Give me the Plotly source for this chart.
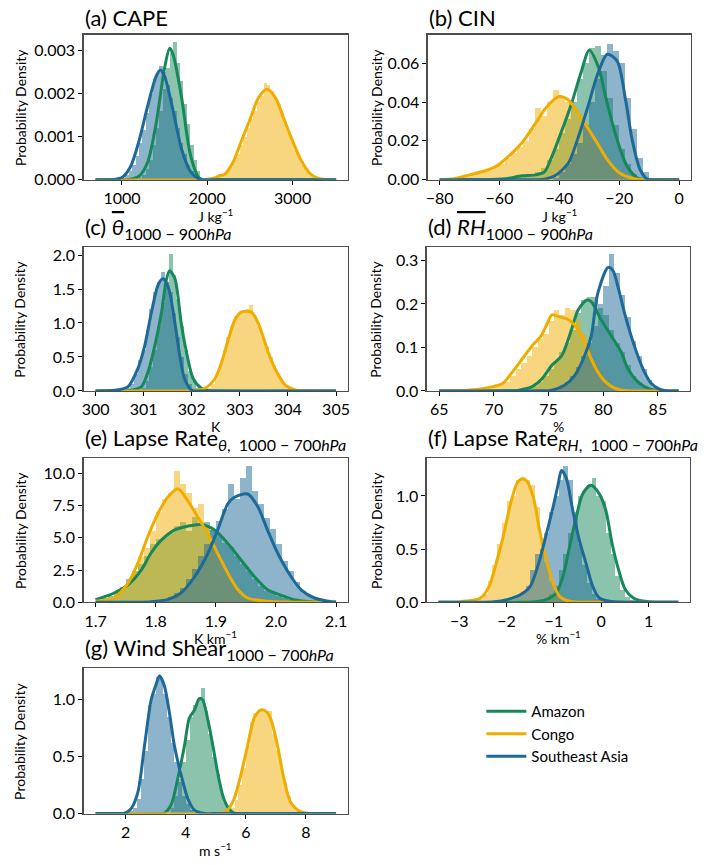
import plotly.graph_objects as go

W, H = 722, 865

AMZ_COLOR = "#17885a"
CON_COLOR = "#f0ad00"
SEA_COLOR = "#1d6a98"
NAMES = ["Amazon", "Congo", "Southeast Asia"]

# ---------------- (a) CAPE ----------------
CAPE_BW = 40
CAPE_AMZ_START = 1200
CAPE_AMZ_H = [0.05e-3, 0.1e-3, 0.25e-3, 0.45e-3, 0.8e-3, 1.2e-3, 1.6e-3, 2.1e-3, 2.6e-3, 2.95e-3,
              3.2e-3, 2.7e-3, 2.3e-3, 1.75e-3, 1.3e-3, 0.8e-3, 0.45e-3, 0.2e-3, 0.05e-3]
CAPE_CON_START = 2100
CAPE_CON_H = [0.05e-3, 0.1e-3, 0.1e-3, 0.2e-3, 0.3e-3, 0.45e-3, 0.6e-3, 0.8e-3, 1.0e-3, 1.2e-3,
              1.4e-3, 1.6e-3, 1.8e-3, 1.95e-3, 2.25e-3, 2.2e-3, 2.05e-3, 1.9e-3, 1.75e-3, 1.55e-3,
              1.35e-3, 1.1e-3, 0.9e-3, 0.7e-3, 0.5e-3, 0.35e-3, 0.25e-3, 0.15e-3, 0.08e-3, 0.04e-3]
CAPE_SEA_START = 1000
CAPE_SEA_H = [0.05e-3, 0.1e-3, 0.2e-3, 0.35e-3, 0.55e-3, 0.85e-3, 1.15e-3, 1.55e-3, 2.0e-3, 2.35e-3,
              2.45e-3, 2.65e-3, 2.5e-3, 2.2e-3, 1.9e-3, 1.6e-3, 1.2e-3, 0.85e-3, 0.6e-3, 0.35e-3,
              0.2e-3, 0.1e-3, 0.04e-3]
CAPE_AMZ_KX = [690, 1050, 1100, 1200, 1300, 1400, 1500, 1560, 1600, 1700, 1800, 1900, 1950, 2000, 3510]
CAPE_AMZ_KY = [0, 0, 0.01e-3, 0.08e-3, 0.4e-3, 1.3e-3, 2.6e-3, 3.05e-3, 2.9e-3, 1.9e-3, 0.6e-3, 0.05e-3, 0, 0, 0]
CAPE_CON_KX = [690, 1950, 2000, 2100, 2150, 2200, 2300, 2400, 2500, 2600, 2700, 2800, 2900, 3000,
               3100, 3200, 3300, 3400, 3450, 3510]
CAPE_CON_KY = [0, 0, 0.01e-3, 0.05e-3, 0.1e-3, 0.12e-3, 0.4e-3, 0.9e-3, 1.4e-3, 1.9e-3, 2.1e-3, 1.9e-3,
               1.4e-3, 0.9e-3, 0.45e-3, 0.15e-3, 0.03e-3, 0.005e-3, 0, 0]
CAPE_SEA_KX = [690, 850, 900, 1000, 1100, 1200, 1300, 1400, 1450, 1500, 1600, 1700, 1800, 1900, 1950, 2000, 3510]
CAPE_SEA_KY = [0, 0, 0.005e-3, 0.05e-3, 0.3e-3, 0.9e-3, 1.7e-3, 2.4e-3, 2.55e-3, 2.4e-3, 1.6e-3, 0.7e-3,
               0.2e-3, 0.02e-3, 0, 0, 0]

# ---------------- (b) CIN ----------------
CIN_BW = 2
CIN_AMZ_START = -56
CIN_AMZ_H = [0.001, 0.002, 0.002, 0.003, 0.004, 0.006, 0.01, 0.016, 0.024, 0.031, 0.04, 0.052,
             0.06, 0.068, 0.069, 0.056, 0.042, 0.028, 0.016, 0.008, 0.003, 0.001]
CIN_CON_START = -74
CIN_CON_H = [0.001, 0.002, 0.003, 0.004, 0.005, 0.005, 0.007, 0.008, 0.011, 0.014, 0.017, 0.02,
             0.026, 0.037, 0.033, 0.04, 0.046, 0.043, 0.04, 0.037, 0.033, 0.028, 0.022, 0.017,
             0.012, 0.008, 0.005, 0.003, 0.0015, 0.0005]
CIN_SEA_START = -42
CIN_SEA_H = [0.001, 0.004, 0.008, 0.013, 0.019, 0.028, 0.04, 0.052, 0.064, 0.07, 0.066, 0.06,
             0.042, 0.026, 0.011, 0.004, 0.001]
CIN_AMZ_KX = [-80, -65, -58, -52.5, -48, -45, -42.5, -39.5, -36, -33, -30, -27, -24, -20.7, -17.4,
              -14, -11, -8, 0]
CIN_AMZ_KY = [0, 0, 0.0005, 0.002, 0.0025, 0.004, 0.012, 0.024, 0.039, 0.054, 0.0666, 0.058, 0.039,
              0.0205, 0.007, 0.001, 0, 0, 0]
CIN_CON_KX = [-80, -75, -70, -65, -61, -57, -52.5, -48, -45, -42, -40, -37, -33, -28, -24, -20,
              -15, -11, -8, 0]
CIN_CON_KY = [0, 0.0005, 0.0025, 0.0045, 0.007, 0.012, 0.019, 0.029, 0.036, 0.041, 0.0428, 0.041,
              0.0325, 0.0205, 0.0103, 0.0036, 0.0005, 0, 0, 0]
CIN_SEA_KX = [-80, -50, -45, -41.5, -37, -34, -30.5, -27.3, -24, -20.7, -17.9, -15.7, -13, -10.8,
              -9, -6, 0]
CIN_SEA_KY = [0, 0, 0.0003, 0.002, 0.0086, 0.0205, 0.0375, 0.054, 0.0646, 0.061, 0.041, 0.0205,
              0.005, 0.0005, 0, 0, 0]

# ---------------- (c) theta 1000-900 ----------------
TH_BW = 0.08
TH_AMZ_START = 300.96
TH_AMZ_H = [0.05, 0.15, 0.35, 0.6, 0.95, 1.3, 1.6, 2.01, 1.7, 1.35, 0.95, 0.6, 0.3, 0.15, 0.05, 0.02]
TH_CON_START = 302.32
TH_CON_H = [0.05, 0.1, 0.25, 0.4, 0.6, 0.8, 0.95, 1.1, 1.15, 1.17, 1.2, 1.27, 1.1, 0.95, 0.8,
            0.65, 0.5, 0.38, 0.25, 0.15, 0.08, 0.04]
TH_SEA_START = 300.64
TH_SEA_H = [0.05, 0.1, 0.25, 0.45, 0.6, 0.9, 1.2, 1.45, 1.6, 1.75, 1.6, 1.45, 1.15, 0.8, 0.5,
            0.25, 0.1, 0.03]
TH_AMZ_KX = [300, 300.6, 300.7, 300.95, 301.09, 301.23, 301.37, 301.47, 301.54, 301.65, 301.78,
             301.89, 302.03, 302.2, 302.34, 302.5, 305]
TH_AMZ_KY = [0, 0, 0.005, 0.06, 0.28, 0.66, 1.15, 1.63, 1.77, 1.65, 1.0, 0.57, 0.18, 0.04, 0.005, 0, 0]
TH_CON_KX = [300, 301.8, 302.0, 302.27, 302.48, 302.62, 302.76, 302.9, 303.03, 303.24, 303.38,
             303.59, 303.73, 303.94, 304.15, 304.35, 304.6, 305]
TH_CON_KY = [0, 0, 0.005, 0.04, 0.18, 0.42, 0.76, 1.05, 1.16, 1.16, 1.0, 0.57, 0.33, 0.09, 0.015,
             0.002, 0, 0]
TH_SEA_KX = [300, 300.2, 300.4, 300.67, 300.88, 301.02, 301.16, 301.3, 301.4, 301.51, 301.65,
             301.75, 301.85, 302.0, 302.2, 302.4, 305]
TH_SEA_KY = [0, 0.002, 0.01, 0.06, 0.33, 0.66, 1.15, 1.56, 1.65, 1.53, 1.0, 0.52, 0.18, 0.01, 0, 0, 0]

# ---------------- (d) RH 1000-900 ----------------
RH_BW = 0.5
RH_AMZ_START = 72.5
RH_AMZ_H = [0.003, 0.008, 0.012, 0.02, 0.035, 0.05, 0.07, 0.09, 0.11, 0.14, 0.18, 0.21, 0.215,
            0.215, 0.19, 0.175, 0.14, 0.11, 0.09, 0.06, 0.035, 0.02, 0.01, 0.004]
RH_CON_START = 68.5
RH_CON_H = [0.003, 0.005, 0.008, 0.012, 0.015, 0.02, 0.035, 0.05, 0.065, 0.08, 0.1, 0.12, 0.13,
            0.16, 0.185, 0.175, 0.19, 0.185, 0.165, 0.13, 0.1, 0.07, 0.045, 0.025, 0.012, 0.005, 0.002]
RH_SEA_START = 75.5
RH_SEA_H = [0.003, 0.01, 0.02, 0.035, 0.055, 0.08, 0.11, 0.15, 0.2, 0.24, 0.315, 0.27, 0.22, 0.17,
            0.115, 0.08, 0.05, 0.025, 0.01, 0.004]
RH_AMZ_KX = [65, 70, 71, 72.3, 73.5, 74.4, 75.3, 76.2, 77.1, 77.7, 78.5, 78.9, 79.8, 80.75, 81.65,
             82.26, 83.16, 84.1, 85, 86, 86.9]
RH_AMZ_KY = [0, 0, 0.0003, 0.002, 0.01, 0.028, 0.059, 0.081, 0.141, 0.186, 0.209, 0.205, 0.164,
             0.126, 0.089, 0.051, 0.021, 0.006, 0.001, 0, 0]
RH_CON_KX = [65, 66.5, 67.8, 69.9, 70.8, 71.7, 72.6, 73.5, 74.3, 74.9, 75.3, 75.9, 76.8, 77.7,
             78.3, 78.9, 79.5, 80.2, 81.1, 82, 83, 86.9]
RH_CON_KY = [0, 0.0003, 0.002, 0.01, 0.017, 0.044, 0.074, 0.104, 0.126, 0.156, 0.175, 0.171,
             0.164, 0.141, 0.111, 0.074, 0.044, 0.021, 0.006, 0.001, 0, 0]
RH_SEA_KX = [65, 73, 74.2, 75.3, 76.5, 77.4, 78.3, 78.9, 79.5, 80.45, 80.9, 81.35, 81.95, 82.56,
             83.16, 83.76, 84.4, 85, 85.6, 86.2, 86.9]
RH_SEA_KY = [0, 0, 0.0003, 0.002, 0.0135, 0.036, 0.081, 0.126, 0.224, 0.284, 0.276, 0.239, 0.179,
             0.126, 0.081, 0.044, 0.017, 0.006, 0.001, 0, 0]

# ---------------- (e) Lapse rate theta ----------------
LRT_BW = 0.01
LRT_AMZ_START = 1.71
LRT_AMZ_H = [0.3, 0.5, 0.8, 1.2, 1.8, 2.4, 3.0, 3.6, 4.5, 4.9, 5.1, 5.4, 5.9, 6.2, 5.5, 6.6, 6.0,
             6.2, 5.6, 5.3, 4.6, 4.3, 3.6, 3.0, 2.4, 1.8, 1.3, 0.9, 0.7, 0.5, 0.35, 0.2, 0.1]
LRT_CON_START = 1.72
LRT_CON_H = [0.3, 0.6, 1.0, 1.6, 2.4, 3.5, 4.2, 5.5, 7.0, 8.0, 8.5, 10.2, 9.2, 8.5, 7.3, 7.6, 6.0,
             4.8, 3.6, 2.6, 1.8, 1.0, 0.5, 0.25, 0.1]
LRT_SEA_START = 1.80
LRT_SEA_H = [0.1, 0.2, 0.4, 0.7, 1.1, 1.8, 2.6, 3.6, 4.5, 5.6, 6.3, 7.2, 9.2, 8.0, 9.6, 10.6, 8.6,
             7.6, 6.5, 5.7, 4.5, 3.2, 2.4, 1.6, 0.9, 0.5, 0.25, 0.1]
LRT_AMZ_KX = [1.70, 1.73, 1.754, 1.776, 1.792, 1.809, 1.831, 1.853, 1.876, 1.898, 1.92, 1.942,
              1.964, 1.986, 2.009, 2.03, 2.064, 2.10]
LRT_AMZ_KY = [0.2, 0.7, 1.36, 2.5, 3.8, 4.8, 5.6, 5.9, 6.03, 5.6, 4.56, 3.28, 2.0, 0.97, 0.54,
              0.2, 0.03, 0]
LRT_CON_KX = [1.70, 1.73, 1.754, 1.77, 1.787, 1.804, 1.82, 1.837, 1.853, 1.87, 1.887, 1.903, 1.92,
              1.937, 1.953, 1.986, 2.02, 2.06, 2.10]
LRT_CON_KY = [0.08, 0.33, 1.49, 3.0, 5.1, 6.9, 8.15, 8.8, 7.9, 6.6, 5.3, 3.8, 2.26, 0.97, 0.33,
              0.08, 0.01, 0, 0]
LRT_SEA_KX = [1.70, 1.76, 1.79, 1.82, 1.842, 1.865, 1.887, 1.903, 1.92, 1.931, 1.953, 1.97, 1.986,
              2.003, 2.025, 2.042, 2.064, 2.092, 2.10]
LRT_SEA_KY = [0, 0, 0.03, 0.2, 0.72, 2.0, 3.8, 5.6, 7.64, 8.15, 8.4, 7.4, 5.6, 3.8, 2.0, 0.97,
              0.33, 0.05, 0.02]

# ---------------- (f) Lapse rate RH ----------------
LRR_BW = 0.1
LRR_AMZ_START = -1.3
LRR_AMZ_H = [0.02, 0.04, 0.08, 0.15, 0.3, 0.45, 0.65, 0.85, 1.0, 1.05, 1.1, 1.17, 1.0, 0.95, 0.65,
             0.45, 0.25, 0.12, 0.05, 0.02]
LRR_CON_START = -2.7
LRR_CON_H = [0.01, 0.03, 0.08, 0.2, 0.35, 0.55, 0.75, 0.95, 1.0, 1.15, 1.18, 1.15, 1.1, 0.9, 0.6,
             0.38, 0.2, 0.08, 0.03, 0.01]
LRR_SEA_START = -2.0
LRR_SEA_H = [0.02, 0.03, 0.06, 0.1, 0.15, 0.3, 0.45, 0.5, 0.65, 0.85, 1.0, 1.15, 1.28, 1.15, 0.8,
             0.55, 0.35, 0.18, 0.08, 0.03]
LRR_AMZ_KX = [-3.44, -1.6, -1.4, -1.16, -0.95, -0.81, -0.67, -0.53, -0.39, -0.22, -0.04, 0.1,
              0.23, 0.37, 0.51, 0.72, 1.0, 1.25, 1.63]
LRR_AMZ_KY = [0, 0, 0.005, 0.025, 0.087, 0.24, 0.52, 0.8, 1.02, 1.1, 1.02, 0.86, 0.55, 0.3, 0.12,
              0.03, 0.006, 0, 0]
LRR_CON_KX = [-3.44, -3.2, -2.97, -2.55, -2.37, -2.2, -2.06, -1.92, -1.78, -1.68, -1.57, -1.43,
              -1.3, -1.16, -1.02, -0.88, -0.67, -0.45, -0.18, 1.63]
LRR_CON_KY = [0, 0.001, 0.006, 0.04, 0.15, 0.4, 0.64, 0.92, 1.12, 1.16, 1.14, 0.98, 0.67, 0.4,
              0.18, 0.056, 0.01, 0, 0, 0]
LRR_SEA_KX = [-3.44, -2.5, -2.27, -1.99, -1.71, -1.5, -1.3, -1.16, -1.02, -0.91, -0.84, -0.74,
              -0.6, -0.46, -0.32, -0.18, -0.04, 0.17, 0.5, 0.8, 1.63]
LRR_SEA_KY = [0, 0, 0.004, 0.025, 0.07, 0.15, 0.4, 0.64, 0.89, 1.11, 1.24, 1.17, 0.86, 0.58,
              0.365, 0.15, 0.04, 0.01, 0.001, 0, 0]

# ---------------- (g) Wind shear ----------------
WS_BW = 0.125
WS_AMZ_START = 3.5
WS_AMZ_H = [0.05, 0.15, 0.3, 0.45, 0.65, 0.85, 0.95, 1.0, 1.1, 0.9, 0.7, 0.5, 0.35, 0.2, 0.1,
            0.04, 0.01]
WS_CON_START = 5.5
WS_CON_H = [0.05, 0.12, 0.25, 0.4, 0.6, 0.8, 0.88, 0.9, 0.92, 0.9, 0.9, 0.7, 0.55, 0.4, 0.28,
            0.15, 0.07, 0.03, 0.01]
WS_SEA_START = 2.125
WS_SEA_H = [0.02, 0.05, 0.13, 0.3, 0.55, 0.95, 1.05, 1.2, 1.18, 1.05, 0.85, 0.62, 0.45, 0.28,
            0.15, 0.08, 0.03, 0.01]
WS_AMZ_KX = [1, 3.0, 3.29, 3.51, 3.73, 3.96, 4.12, 4.29, 4.45, 4.56, 4.73, 4.9, 5.06, 5.23, 5.39,
             5.61, 5.9, 9]
WS_AMZ_KY = [0, 0, 0.005, 0.075, 0.3, 0.6, 0.84, 0.91, 1.01, 1.0, 0.83, 0.6, 0.36, 0.16, 0.06,
             0.003, 0, 0]
WS_CON_KX = [1, 4.9, 5.17, 5.39, 5.61, 5.83, 6.06, 6.28, 6.5, 6.66, 6.83, 7.05, 7.27, 7.49, 7.82,
             8.15, 8.5, 9]
WS_CON_KY = [0, 0, 0.003, 0.03, 0.13, 0.335, 0.6, 0.84, 0.91, 0.9, 0.83, 0.6, 0.3, 0.1, 0.017,
             0, 0, 0]
WS_SEA_KX = [1, 1.7, 1.97, 2.19, 2.41, 2.63, 2.85, 3.02, 3.13, 3.29, 3.46, 3.62, 3.85, 4.07,
             4.29, 4.62, 4.9, 9]
WS_SEA_KY = [0, 0, 0.003, 0.046, 0.19, 0.6, 1.0, 1.14, 1.21, 1.12, 0.88, 0.6, 0.335, 0.13, 0.03,
             0, 0, 0]

# ---------------- text ----------------
SUB = "<sub><span style='font-size:16px'>{}</span></sub>"
OVL = "<span style='text-decoration:overline'>{}</span>"
NB = "\u00a0"
TITLES = [
    "(a) CAPE",
    "(b) CIN",
    "(c) <i>" + OVL.format("θ") + "</i>" + SUB.format("1000 − 900<i>hPa</i>"),
    "(d) <i>" + OVL.format("RH") + "</i>" + SUB.format("1000 − 900<i>hPa</i>"),
    "(e) Lapse Rate" + SUB.format("<i>θ</i>," + NB * 2 + "1000 − 700<i>hPa</i>"),
    "(f) Lapse Rate" + SUB.format("<i>RH</i>," + NB * 2 + "1000 − 700<i>hPa</i>"),
    "(g) Wind Shear" + SUB.format("1000 − 700<i>hPa</i>"),
]
XLABELS = ["J kg<sup>−1</sup>", "J kg<sup>−1</sup>", "K", "%", "K km<sup>−1</sup>",
           "% km<sup>−1</sup>", "m s<sup>−1</sup>"]
YLABEL = "Probability Density"

CAPE_XTICKS = [1000, 2000, 3000]
CAPE_YTICKS = [0, 0.001, 0.002, 0.003]
CIN_XTICKS = [-80, -60, -40, -20, 0]
CIN_YTICKS = [0, 0.02, 0.04, 0.06]
TH_XTICKS = [300, 301, 302, 303, 304, 305]
TH_YTICKS = [0, 0.5, 1.0, 1.5, 2.0]
RH_XTICKS = [65, 70, 75, 80, 85]
RH_YTICKS = [0, 0.1, 0.2, 0.3]
LRT_XTICKS = [1.7, 1.8, 1.9, 2.0, 2.1]
LRT_YTICKS = [0, 2.5, 5.0, 7.5, 10.0]
LRR_XTICKS = [-3, -2, -1, 0, 1]
LRR_YTICKS = [0, 0.5, 1.0]
WS_XTICKS = [2, 4, 6, 8]
WS_YTICKS = [0, 0.5, 1.0]

panels = [
    dict(bw=CAPE_BW, hist=[(CAPE_AMZ_START, CAPE_AMZ_H), (CAPE_CON_START, CAPE_CON_H), (CAPE_SEA_START, CAPE_SEA_H)],
         kde=[(CAPE_AMZ_KX, CAPE_AMZ_KY), (CAPE_CON_KX, CAPE_CON_KY), (CAPE_SEA_KX, CAPE_SEA_KY)],
         xr=[550, 3650], yr=[0, 0.00337], xt=CAPE_XTICKS, yt=CAPE_YTICKS, xf="d", yf=".3f",
         px=(82, 348), py=(33, 180)),
    dict(bw=CIN_BW, hist=[(CIN_AMZ_START, CIN_AMZ_H), (CIN_CON_START, CIN_CON_H), (CIN_SEA_START, CIN_SEA_H)],
         kde=[(CIN_AMZ_KX, CIN_AMZ_KY), (CIN_CON_KX, CIN_CON_KY), (CIN_SEA_KX, CIN_SEA_KY)],
         xr=[-84, 4], yr=[0, 0.0747], xt=CIN_XTICKS, yt=CIN_YTICKS, xf="d", yf=".2f",
         px=(428, 693), py=(33, 180)),
    dict(bw=TH_BW, hist=[(TH_AMZ_START, TH_AMZ_H), (TH_CON_START, TH_CON_H), (TH_SEA_START, TH_SEA_H)],
         kde=[(TH_AMZ_KX, TH_AMZ_KY), (TH_CON_KX, TH_CON_KY), (TH_SEA_KX, TH_SEA_KY)],
         xr=[299.75, 305.25], yr=[0, 2.12], xt=TH_XTICKS, yt=TH_YTICKS, xf="d", yf=".1f",
         px=(82, 348), py=(248, 394)),
    dict(bw=RH_BW, hist=[(RH_AMZ_START, RH_AMZ_H), (RH_CON_START, RH_CON_H), (RH_SEA_START, RH_SEA_H)],
         kde=[(RH_AMZ_KX, RH_AMZ_KY), (RH_CON_KX, RH_CON_KY), (RH_SEA_KX, RH_SEA_KY)],
         xr=[63.85, 87.95], yr=[0, 0.331], xt=RH_XTICKS, yt=RH_YTICKS, xf="d", yf=".1f",
         px=(427, 692), py=(248, 394)),
    dict(bw=LRT_BW, hist=[(LRT_AMZ_START, LRT_AMZ_H), (LRT_CON_START, LRT_CON_H), (LRT_SEA_START, LRT_SEA_H)],
         kde=[(LRT_AMZ_KX, LRT_AMZ_KY), (LRT_CON_KX, LRT_CON_KY), (LRT_SEA_KX, LRT_SEA_KY)],
         xr=[1.68, 2.12], yr=[0, 11.18], xt=LRT_XTICKS, yt=LRT_YTICKS, xf=".1f", yf=".1f",
         px=(82, 348), py=(462, 608)),
    dict(bw=LRR_BW, hist=[(LRR_AMZ_START, LRR_AMZ_H), (LRR_CON_START, LRR_CON_H), (LRR_SEA_START, LRR_SEA_H)],
         kde=[(LRR_AMZ_KX, LRR_AMZ_KY), (LRR_CON_KX, LRR_CON_KY), (LRR_SEA_KX, LRR_SEA_KY)],
         xr=[-3.69, 1.88], yr=[0, 1.356], xt=LRR_XTICKS, yt=LRR_YTICKS, xf="d", yf=".1f",
         px=(427, 692), py=(462, 608)),
    dict(bw=WS_BW, hist=[(WS_AMZ_START, WS_AMZ_H), (WS_CON_START, WS_CON_H), (WS_SEA_START, WS_SEA_H)],
         kde=[(WS_AMZ_KX, WS_AMZ_KY), (WS_CON_KX, WS_CON_KY), (WS_SEA_KX, WS_SEA_KY)],
         xr=[0.6, 9.4], yr=[0, 1.275], xt=WS_XTICKS, yt=WS_YTICKS, xf="d", yf=".1f",
         px=(82, 348), py=(675, 822)),
]

COLORS = [AMZ_COLOR, CON_COLOR, SEA_COLOR]


def rgba(hexc, a):
    h = hexc.lstrip("#")
    return f"rgba({int(h[0:2],16)},{int(h[2:4],16)},{int(h[4:6],16)},{a})"


def fmt_tick(v, f):
    if f == "d":
        s = f"{int(round(v))}"
    else:
        s = format(v, f)
    return s.replace("-", "\u2212")


FONT = "Lato, 'DejaVu Sans', sans-serif"
fig = go.Figure()
layout = dict(
    width=W, height=H, margin=dict(l=0, r=0, t=0, b=0),
    paper_bgcolor="white", plot_bgcolor="white",
    barmode="overlay", bargap=0, showlegend=True,
    font=dict(family=FONT, size=16, color="black"),
)
annotations = []

for i, p in enumerate(panels):
    n = "" if i == 0 else str(i + 1)
    xa, ya = "x" + n, "y" + n
    for (start, hs), col, name in zip(p["hist"], COLORS, NAMES):
        xs = [start + (k + 0.5) * p["bw"] for k in range(len(hs))]
        fig.add_trace(go.Bar(x=xs, y=hs, width=p["bw"], marker=dict(color=rgba(col, 0.5), line=dict(width=0)),
                             xaxis=xa, yaxis=ya, showlegend=False, hoverinfo="skip"))
    for (kx, ky), col, name in zip(p["kde"], COLORS, NAMES):
        fig.add_trace(go.Scatter(x=kx, y=ky, mode="lines", line=dict(color=col, width=3, shape="spline", smoothing=0.8),
                                 xaxis=xa, yaxis=ya, name=name, showlegend=(i == 0), legendgroup=name,
                                 hoverinfo="skip"))
    x0, x1 = p["px"]
    y0, y1 = p["py"]
    axis_common = dict(showline=True, linecolor="#4d4d4d", linewidth=1.2, mirror=True, ticks="outside",
                       ticklen=4, tickwidth=1, tickcolor="black", showgrid=False, zeroline=False,
                       tickfont=dict(size=16, family=FONT, color="black"))
    layout["xaxis" + n] = dict(domain=[x0 / W, x1 / W], range=p["xr"], anchor=ya,
                               tickvals=p["xt"], ticktext=[fmt_tick(v, p["xf"]) for v in p["xt"]], **axis_common)
    layout["yaxis" + n] = dict(domain=[1 - y1 / H, 1 - y0 / H], range=p["yr"], anchor=xa,
                               tickvals=p["yt"], ticktext=[fmt_tick(v, p["yf"]) for v in p["yt"]], **axis_common)
    # title
    annotations.append(dict(text=TITLES[i], xref="paper", yref="paper", x=(x0 - 1) / W, y=1 - (y0 - 2) / H,
                            xanchor="left", yanchor="bottom", showarrow=False,
                            font=dict(size=22, family=FONT, color="black")))
    # x label
    annotations.append(dict(text=XLABELS[i], xref="paper", yref="paper", x=(x0 + x1) / 2 / W, y=1 - (y1 + 36) / H,
                            xanchor="center", yanchor="middle", showarrow=False,
                            font=dict(size=14, family=FONT, color="black")))
    # y label
    ylx = 18 if x0 < 200 else 376
    annotations.append(dict(text=YLABEL, xref="paper", yref="paper", x=ylx / W, y=1 - (y0 + y1) / 2 / H,
                            xanchor="center", yanchor="middle", textangle=-90, showarrow=False,
                            font=dict(size=14, family=FONT, color="black")))

layout["annotations"] = annotations
layout["legend"] = dict(x=482 / W, y=1 - 702 / H, xanchor="left", yanchor="top", bgcolor="rgba(0,0,0,0)",
                        font=dict(size=15, family=FONT, color="black"), tracegroupgap=0, borderwidth=0,
                        itemwidth=40)
layout["hovermode"] = False
fig.update_layout(**layout)
fig.write_html("out.html", config={"displayModeBar": False, "staticPlot": True},
               post_script="document.body.style.margin='0';document.body.style.padding='0';")
